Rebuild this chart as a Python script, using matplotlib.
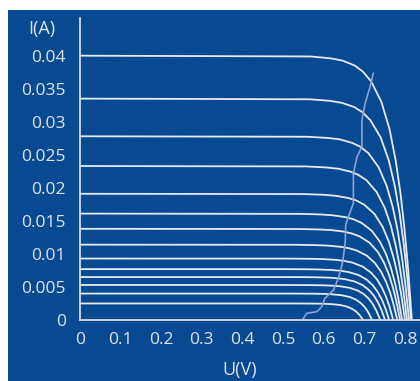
import matplotlib.pyplot as plt
from matplotlib.patches import Rectangle

# I-V curves (voltage in V, current in A), lowest to highest
curve_v = [
    [0, .447, .497, .527, .557, .577, .597, .622, .642, .657, .669, .679, .688, .697],
    [0, .469, .519, .549, .579, .599, .619, .644, .664, .679, .691, .701, .710, .719],
    [0, .489, .539, .569, .599, .619, .639, .664, .684, .699, .711, .721, .730, .739],
    [0, .501, .551, .581, .611, .631, .651, .676, .696, .711, .723, .733, .742, .751],
    [0, .511, .561, .591, .621, .641, .661, .686, .706, .721, .733, .743, .752, .761],
    [0, .521, .571, .601, .631, .651, .671, .696, .716, .731, .743, .753, .762, .771],
    [0, .531, .581, .611, .641, .661, .681, .706, .726, .741, .753, .763, .772, .781],
    [0, .538, .588, .618, .648, .668, .688, .713, .733, .748, .760, .770, .779, .788],
    [0, .543, .593, .623, .653, .673, .693, .718, .738, .753, .765, .775, .784, .793],
    [0, .550, .600, .630, .660, .680, .700, .725, .745, .760, .772, .782, .791, .800],
    [0, .555, .605, .635, .665, .685, .705, .730, .750, .765, .777, .787, .796, .805],
    [0, .560, .610, .640, .670, .690, .710, .735, .755, .770, .782, .792, .801, .810],
    [0, .565, .615, .645, .675, .695, .715, .740, .760, .775, .787, .797, .806, .815],
    [0, .567, .617, .647, .677, .697, .717, .742, .762, .777, .789, .799, .808, .817],
]
curve_i = [
    [.0025, .0025, .0025, .0025, .00249, .00248, .00246, .00239, .00225, .00203, .00172, .00132, .00078, 0],
    [.004, .004, .004, .00399, .00398, .00395, .0039, .00375, .00348, .00309, .00258, .00195, .00113, 0],
    [.0053, .0053, .00529, .00528, .00525, .0052, .00511, .00487, .00445, .0039, .00322, .00239, .00137, 0],
    [.0065, .0065, .00649, .00646, .00641, .00633, .00619, .00583, .00527, .00456, .00372, .00273, .00155, 0],
    [.0077, .0077, .00768, .00764, .00756, .00745, .00726, .0068, .0061, .00524, .00424, .0031, .00175, 0],
    [.0093, .00929, .00926, .00921, .00909, .00894, .00868, .00807, .0072, .00615, .00494, .00358, .00201, 0],
    [.0114, .01138, .01133, .01125, .01108, .01088, .01052, .00974, .00862, .00732, .00584, .00422, .00235, 0],
    [.0138, .01377, .0137, .01361, .01339, .01311, .01267, .01169, .01031, .00872, .00694, .005, .00277, 0],
    [.0161, .01606, .01597, .01584, .01557, .01525, .0147, .01352, .01188, .01003, .00797, .00572, .00317, 0],
    [.0191, .01906, .01895, .01879, .01847, .01809, .01744, .01604, .0141, .0119, .00945, .00678, .00376, 0],
    [.0233, .02324, .02309, .0229, .02246, .02197, .02116, .01939, .01701, .01431, .01135, .00813, .0045, 0],
    [.0278, .02773, .02755, .02733, .0268, .02622, .02524, .02313, .02029, .01707, .01354, .0097, .00537, 0],
    [.0335, .0334, .03317, .03286, .03223, .03146, .03022, .02764, .02419, .02027, .01605, .01146, .00633, 0],
    [.04, .03988, .0396, .03924, .03848, .03756, .03608, .033, .02888, .0242, .01916, .01368, .00756, 0],
]

# maximum power point line
mpp_v = [.550, .558, .583, .595, .603, .624, .636, .645, .649, .653, .654, .661,
         .673, .673, .682, .694, .694, .702, .714, .722]
mpp_i = [.00026, .00101, .00126, .00201, .00328, .00454, .00631, .00832, .00983,
         .01185, .01437, .01563, .01765, .02219, .0247, .02622, .03026, .03278,
         .0353, .03732]

x_ticks = [0, 0.1, 0.2, 0.3, 0.4, 0.5, 0.6, 0.7, 0.8]
x_labels = ['0', '0.1', '0.2', '0.3', '0.4', '0.5', '0.6', '0.7', '0.8']
y_ticks = [0, 0.005, 0.01, 0.015, 0.02, 0.025, 0.03, 0.035, 0.04]
y_labels = ['0', '0.005', '0.01', '0.015', '0.02', '0.025', '0.03', '0.035', '0.04']

bg = '#074a92'
fg = '#dfe5ee'
plt.rcParams['font.family'] = ['Open Sans', 'DejaVu Sans']

fig = plt.figure(figsize=(4.2, 3.81), dpi=100)
fig.patch.set_facecolor('white')
fig.patches.append(Rectangle((8 / 420, 0), 1, 1 - 10 / 381, transform=fig.transFigure,
                             facecolor=bg, edgecolor='none', zorder=-10))

ax = fig.add_axes([80 / 420, 61 / 381, 340 / 420, 302 / 381])
ax.set_facecolor('none')

for v, i in zip(curve_v, curve_i):
    ax.plot(v, i, color='#e6eaf1', lw=1.3, solid_capstyle='round', solid_joinstyle='round')
ax.plot(mpp_v, mpp_i, color='#8aa3d6', lw=1.2, solid_joinstyle='round')

ax.set_xlim(0, 0.837)
ax.set_ylim(0, 0.0457)
ax.set_xticks(x_ticks, x_labels)
ax.set_yticks(y_ticks, y_labels)
ax.tick_params(length=0, colors=fg, labelsize=12.5)
ax.tick_params(axis='y', pad=10)
ax.tick_params(axis='x', pad=9)
for s in ['top', 'right']:
    ax.spines[s].set_visible(False)
for s in ['left', 'bottom']:
    ax.spines[s].set_color('#d3dae6')
    ax.spines[s].set_linewidth(1.3)

fig.text(42 / 420, 1 - 29 / 381, 'I(A)', color=fg, fontsize=13, ha='center', va='center')
fig.text(240 / 420, 1 - 370 / 381, 'U(V)', color=fg, fontsize=13, ha='center', va='center')

fig.savefig('out.png', dpi=100)
